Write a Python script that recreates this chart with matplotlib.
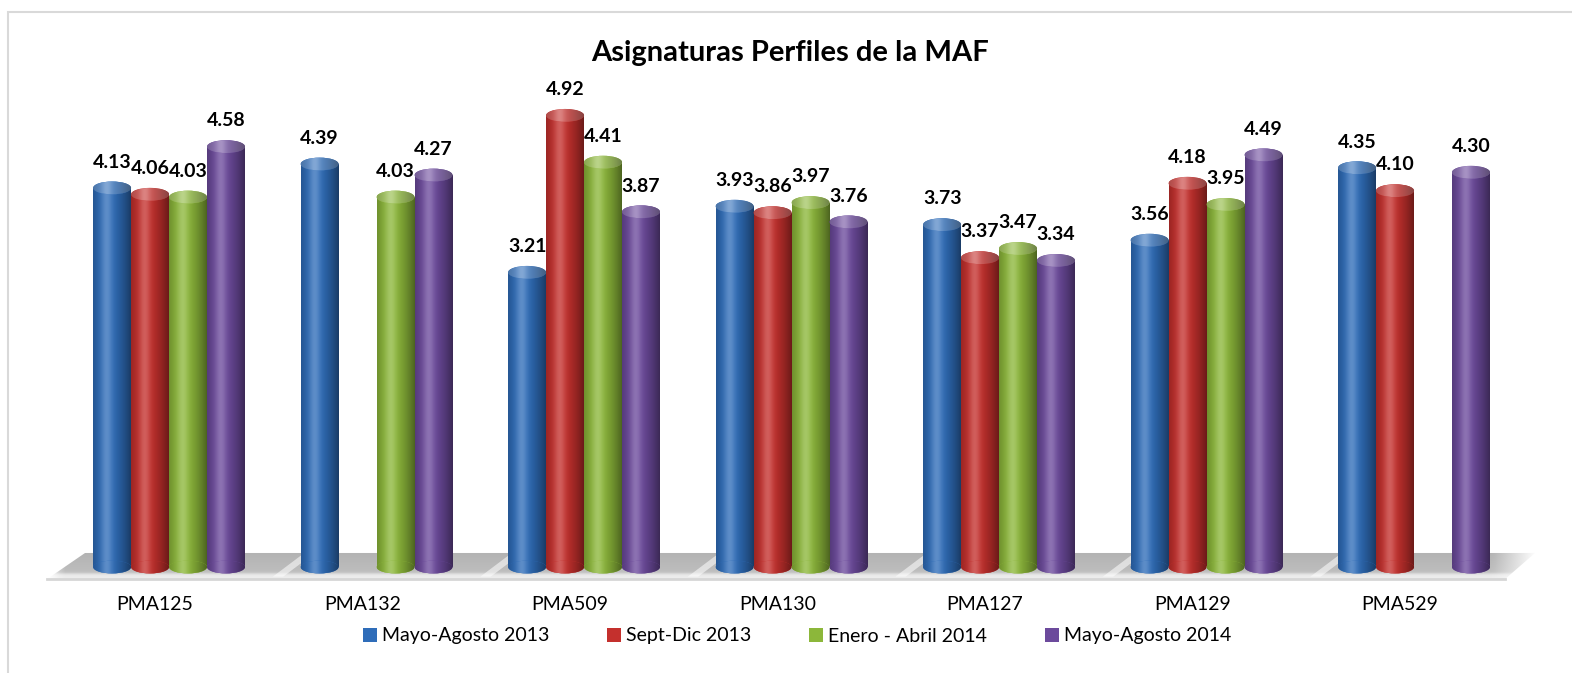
import numpy as np
import matplotlib
matplotlib.use('Agg')
import matplotlib.pyplot as plt
from matplotlib.patches import Ellipse, Rectangle, Polygon
from matplotlib.colors import to_rgb

# datos del gráfico
categories = ['PMA125', 'PMA132', 'PMA509', 'PMA130', 'PMA127', 'PMA129', 'PMA529']
series_names = ['Mayo-Agosto 2013', 'Sept-Dic 2013', 'Enero - Abril 2014', 'Mayo-Agosto 2014']
mayo_ago_2013 = [4.13, 4.39, 3.21, 3.93, 3.73, 3.56, 4.35]
sept_dic_2013 = [4.06, None, 4.92, 3.86, 3.37, 4.18, 4.10]
enero_abr_2014 = [4.03, 4.03, 4.41, 3.97, 3.47, 3.95, None]
mayo_ago_2014 = [4.58, 4.27, 3.87, 3.76, 3.34, 4.49, 4.30]
series_values = [mayo_ago_2013, sept_dic_2013, enero_abr_2014, mayo_ago_2014]
colors = ['#2F6DB9', '#C4302D', '#8CB73A', '#6C4A9C']

plt.rcParams['font.family'] = ['Lato', 'DejaVu Sans']


def cyl_gradient(base, lighten=0.0, n=64):
    """gradiente horizontal para simular un cilindro"""
    t = np.linspace(0, 1, n)
    b = np.array(to_rgb(base))
    dark = 1 - 0.45 * np.clip(np.abs(t - 0.38) / 0.62, 0, 1) ** 1.6
    hl = 0.22 * np.exp(-((t - 0.36) / 0.15) ** 2) + lighten
    c = b[None, :] * dark[:, None]
    c = c + (1 - c) * hl[:, None]
    return np.clip(c, 0, 1)[None, :, :]


fig = plt.figure(figsize=(15.72, 6.73), dpi=100)
# ejes en coordenadas de píxel aproximadas
ax = fig.add_axes([40 / 1572, 1 - 580.8 / 673, 1500 / 1572, 500.3 / 673])
ax.axis('off')

# marco exterior
fig.patches.append(Rectangle((8 / 1572, -0.1), 1.2, 1.1 - 12 / 673, transform=fig.transFigure,
                             fill=False, edgecolor='#D9D9D9', lw=1.5))

# suelo gris
floor_pts = [(-0.588, -0.131), (6.439, -0.131), (6.583, 0.153), (-0.405, 0.153)]
floor = Polygon(floor_pts, closed=True, facecolor='none', edgecolor='none')
ax.add_patch(floor)
v = np.linspace(0, 1, 48)
g = 0.70 + 0.06 * v + 0.17 / (1 + np.exp(-(v - 0.8) * 40))
h = np.linspace(0, 1, 256)
fade = np.clip((1 - h) / 0.03, 0, 1) * np.clip(h / 0.01, 0, 1)
grey = 1 - (1 - g[:, None]) * fade[None, :]
floor_img = np.dstack([grey, grey, grey])
im = ax.imshow(floor_img, extent=[-0.6, 6.6, -0.131, 0.153], origin='upper',
               aspect='auto', interpolation='bilinear', zorder=1)
im.set_clip_path(floor)
# reflejos diagonales del suelo entre grupos
for i in range(len(categories) - 1):
    xb = i + 0.50
    streak = Polygon([(xb, -0.105), (xb + 0.05, -0.105), (xb + 0.2, 0.15), (xb + 0.15, 0.15)],
                     closed=True, facecolor='white', edgecolor='none', alpha=0.55, zorder=1)
    ax.add_patch(streak)
ax.plot([-0.588, 6.439], [-0.135, -0.135], color='#D6D6D6', lw=2, zorder=1)

w = 0.183
cap_h = 0.14
for k, (vals, col) in enumerate(zip(series_values, colors)):
    x = np.arange(len(categories)) + (k - 1.5) * w
    xs = [xi for xi, vi in zip(x, vals) if vi is not None]
    vs = [vi for vi in vals if vi is not None]
    bars = ax.bar(xs, vs, width=w, color=col, zorder=2)
    grad = cyl_gradient(col)
    cap = cyl_gradient(col, lighten=0.18)
    for bar, xi, vi in zip(bars, xs, vs):
        im = ax.imshow(grad, extent=[xi - w / 2, xi + w / 2, -cap_h, vi], aspect='auto',
                       interpolation='bilinear', zorder=2)
        im.set_clip_path(bar)
        bot = Ellipse((xi, 0), w, cap_h, facecolor=col, edgecolor='none', zorder=2)
        ax.add_patch(bot)
        im = ax.imshow(grad, extent=[xi - w / 2, xi + w / 2, -cap_h, cap_h], aspect='auto',
                       interpolation='bilinear', zorder=2)
        im.set_clip_path(bot)
        top = Ellipse((xi, vi), w, cap_h, facecolor=col, edgecolor='none', zorder=3)
        ax.add_patch(top)
        im = ax.imshow(cap, extent=[xi - w / 2, xi + w / 2, vi - cap_h, vi + cap_h], aspect='auto',
                       interpolation='bilinear', zorder=3)
        im.set_clip_path(top)
        ax.annotate(f'{vi:.2f}', (xi, vi), xytext=(0, 18.5), textcoords='offset points',
                    ha='center', va='center', fontsize=14, fontweight='bold', zorder=5)

ax.set_xlim(-0.622, 6.607)
ax.set_ylim(-0.15, 5.3)

# etiquetas de categoría
for i, c in enumerate(categories):
    ax.text(i - 0.0675, -0.15 - 24 / 91.8, c, ha='center', va='center',
            fontsize=14, clip_on=False)

fig.text(790 / 1572, 1 - 53 / 673, 'Asignaturas Perfiles de la MAF', ha='center', va='center',
         fontsize=21, fontweight='bold')

handles = [Rectangle((0, 0), 1, 1, facecolor=c, edgecolor='none') for c in colors]
fig.legend(handles, series_names, loc='center', bbox_to_anchor=(797 / 1572, 1 - 636 / 673),
           ncol=4, frameon=False, fontsize=14, handlelength=0.7, handleheight=0.7,
           handletextpad=0.25, columnspacing=3.0)

fig.savefig('out.png', dpi=100)
